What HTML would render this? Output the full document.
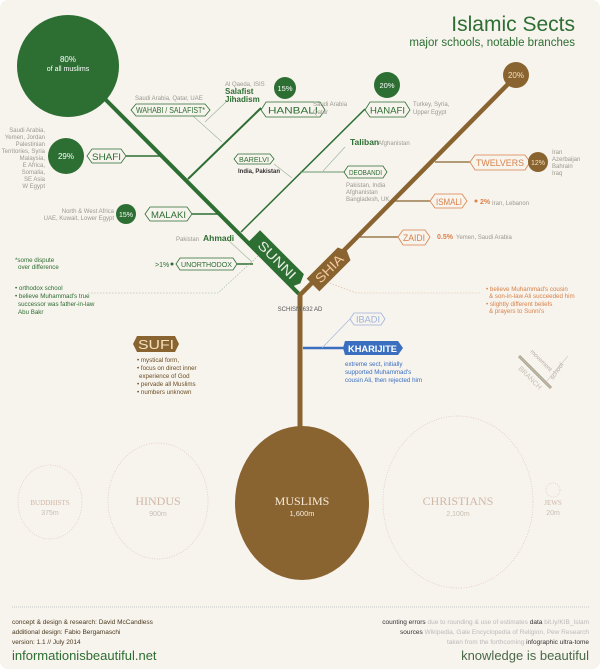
<!DOCTYPE html>
<html><head><meta charset="utf-8"><style>
html,body{margin:0;padding:0;background:#fff}
svg{display:block}
text{font-family:"Liberation Sans",sans-serif}
.s{font-family:"Liberation Serif",serif}
</style></head><body>
<svg width="600" height="669" viewBox="0 0 600 669" xmlns="http://www.w3.org/2000/svg">
<rect x="0" y="0" width="600" height="669" rx="8" fill="#f7f3ed"/>
<text x="575" y="31" text-anchor="end" font-size="21" fill="#2d6e33">Islamic Sects</text>
<text x="575" y="46" text-anchor="end" font-size="11.5" fill="#2d6e33">major schools, notable branches</text>

<circle cx="68" cy="66" r="51" fill="#2d6e33"/>
<text x="68" y="62" text-anchor="middle" font-size="8" fill="#fff">80%</text>
<text x="68" y="71" text-anchor="middle" font-size="7" fill="#fff">of all muslims</text>

<line x1="104" y1="98" x2="301" y2="296" stroke="#2d6e33" stroke-width="4"/>
<line x1="299" y1="296" x2="512" y2="80" stroke="#8a6430" stroke-width="4.5"/>
<circle cx="516" cy="75" r="13" fill="#8a6430"/>
<text x="516" y="78" text-anchor="middle" font-size="8" fill="#f3e0c0">20%</text>
<line x1="300" y1="296" x2="300" y2="430" stroke="#8a6430" stroke-width="5"/>

<line x1="188" y1="179" x2="261" y2="108" stroke="#2d6e33" stroke-width="2"/>
<line x1="241" y1="232" x2="365" y2="109" stroke="#2d6e33" stroke-width="1.5"/>
<line x1="300" y1="172" x2="345" y2="172" stroke="#6a9a6e" stroke-width="1"/>
<line x1="126" y1="156" x2="160" y2="156" stroke="#2d6e33" stroke-width="1.5"/>
<line x1="192" y1="214" x2="218" y2="214" stroke="#2d6e33" stroke-width="1.5"/>
<line x1="237" y1="264" x2="253" y2="264" stroke="#2d6e33" stroke-width="1.5"/>
<line x1="193" y1="116" x2="222" y2="142" stroke="#9ab39c" stroke-width="0.6"/>
<line x1="205" y1="122" x2="226" y2="102" stroke="#9ab39c" stroke-width="0.6"/>
<line x1="274" y1="164" x2="292" y2="178" stroke="#9ab39c" stroke-width="0.6"/>
<line x1="323" y1="171" x2="345" y2="147" stroke="#9ab39c" stroke-width="0.6"/>
<line x1="228" y1="240" x2="252" y2="262" stroke="#9ab39c" stroke-width="0.6"/>
<polyline points="88,293 218,293 270,245" fill="none" stroke="#9ab39c" stroke-width="0.6" stroke-dasharray="1.5,1.5"/>
<polyline points="327,282 356,293 480,293" fill="none" stroke="#e0b59a" stroke-width="0.6" stroke-dasharray="1.5,1.5"/>

<g fill="#2d6e33">
<polygon points="136,104 205,104 210,110 205,116 136,116 131,110" fill="#f7f3ed" stroke="#2d6e33" stroke-width="0.8"/>
<text x="136" y="113" font-size="8" textLength="69" lengthAdjust="spacingAndGlyphs">WAHABI / SALAFIST*</text>
<polygon points="266,102 320,102 325,110 320,117 266,117 261,110" fill="#f7f3ed" stroke="#2d6e33" stroke-width="0.8"/>
<text x="268" y="113.5" font-size="9.5" textLength="50" lengthAdjust="spacingAndGlyphs">HANBALI</text>
<polygon points="370,102 405,102 410,110 405,117 370,117 365,110" fill="#f7f3ed" stroke="#2d6e33" stroke-width="0.8"/>
<text x="370" y="113.5" font-size="9.5" textLength="35" lengthAdjust="spacingAndGlyphs">HANAFI</text>
<polygon points="92,149 121,149 126,156 121,163 92,163 87,156" fill="#f7f3ed" stroke="#2d6e33" stroke-width="0.8"/>
<text x="92" y="160" font-size="9.5" textLength="29" lengthAdjust="spacingAndGlyphs">SHAFI</text>
<polygon points="150,207 187,207 192,214 187,221 150,221 145,214" fill="#f7f3ed" stroke="#2d6e33" stroke-width="0.8"/>
<text x="151" y="218" font-size="9.5" textLength="35" lengthAdjust="spacingAndGlyphs">MALAKI</text>
<polygon points="238,154 270,154 274,159 270,164 238,164 234,159" fill="#f7f3ed" stroke="#2d6e33" stroke-width="0.8"/>
<text x="239" y="162" font-size="7.5" textLength="30" lengthAdjust="spacingAndGlyphs">BARELVI</text>
<polygon points="348,166 383,166 387,172 383,178 348,178 344,172" fill="#f7f3ed" stroke="#2d6e33" stroke-width="0.8"/>
<text x="349" y="175" font-size="7.5" textLength="33" lengthAdjust="spacingAndGlyphs">DEOBANDI</text>
<polygon points="180,258 233,258 237,264 233,270 180,270 176,264" fill="#f7f3ed" stroke="#2d6e33" stroke-width="0.8"/>
<text x="181" y="267" font-size="7.5" textLength="51" lengthAdjust="spacingAndGlyphs">UNORTHODOX</text>
</g>
<circle cx="285" cy="88" r="11" fill="#2d6e33"/><text x="285" y="91" text-anchor="middle" font-size="7.5" fill="#fff">15%</text>
<circle cx="387" cy="85" r="13" fill="#2d6e33"/><text x="387" y="88" text-anchor="middle" font-size="7.5" fill="#fff">20%</text>
<circle cx="66" cy="156" r="18" fill="#2d6e33"/><text x="66" y="159" text-anchor="middle" font-size="8" fill="#fff">29%</text>
<circle cx="126" cy="214" r="10" fill="#2d6e33"/><text x="126" y="217" text-anchor="middle" font-size="7" fill="#fff">15%</text>
<circle cx="172" cy="264" r="1.5" fill="#2d6e33"/>

<g font-size="6" fill="#9a9a90">
<text x="135" y="100">Saudi Arabia, Qatar, UAE</text>
<text x="225" y="86">Al Qaeda, ISIS</text>
<text x="313" y="106">Saudi Arabia</text><text x="313" y="114">Qatar</text>
<text x="413" y="106">Turkey, Syria,</text><text x="413" y="114">Upper Egypt</text>
<text x="378" y="145">Afghanistan</text>
<text x="346" y="187">Pakistan, India</text><text x="346" y="194">Afghanistan</text><text x="346" y="201">Bangladesh, UK</text>
<g text-anchor="end">
<text x="45" y="132">Saudi Arabia,</text><text x="45" y="139">Yemen, Jordan</text><text x="45" y="146">Palestinian</text><text x="45" y="153">Territories, Syria</text><text x="45" y="160">Malaysia,</text><text x="45" y="167">E Africa,</text><text x="45" y="174">Somalia,</text><text x="45" y="181">SE Asia</text><text x="45" y="188">W Egypt</text>
<text x="114" y="213">North &amp; West Africa</text><text x="114" y="220">UAE, Kuwait, Lower Egypt</text>
<text x="199" y="241">Pakistan</text>
</g>
<text x="552" y="154">Iran</text><text x="552" y="161">Azerbaijan</text><text x="552" y="168">Bahrain</text><text x="552" y="175">Iraq</text>
<text x="492" y="205">Iran, Lebanon</text>
<text x="456" y="239">Yemen, Saudi Arabia</text>
</g>
<g class="s" fill="#2d6e33" font-weight="bold">
<text x="225" y="94" font-size="8">Salafist</text><text x="225" y="102" font-size="8">Jihadism</text>
<text x="350" y="145" font-size="8.5">Taliban</text>
<text x="203" y="241" font-size="8.5">Ahmadi</text>
</g>
<text x="238" y="173" font-size="6" fill="#333" font-weight="bold">India, Pakistan</text>
<text x="155" y="267" font-size="7" fill="#2d6e33">&gt;1%</text>
<g font-size="6.2" fill="#2d6e33">
<text x="15" y="262">*some dispute</text><text x="18" y="269">over difference</text>
<text x="15" y="290">• orthodox school</text>
<text x="15" y="298">• believe Muhammad's true</text>
<text x="18" y="306">successor was father-in-law</text>
<text x="18" y="314">Abu Bakr</text>
</g>

<line x1="435" y1="162" x2="470" y2="162" stroke="#8a6430" stroke-width="1.2"/>
<line x1="395" y1="201" x2="430" y2="201" stroke="#8a6430" stroke-width="1.2"/>
<line x1="360" y1="237" x2="398" y2="237" stroke="#8a6430" stroke-width="1.2"/>
<g fill="#d9824a">
<polygon points="475,155 525,155 530,162 525,170 475,170 470,162" fill="#f7f3ed" stroke="#d9824a" stroke-width="0.8"/>
<text x="476" y="166" font-size="9.5" textLength="48" lengthAdjust="spacingAndGlyphs">TWELVERS</text>
<polygon points="435,194 462,194 467,201 462,208 435,208 430,201" fill="#f7f3ed" stroke="#d9824a" stroke-width="0.8"/>
<text x="436" y="205" font-size="9.5" textLength="26" lengthAdjust="spacingAndGlyphs">ISMALI</text>
<polygon points="403,230 425,230 430,237 425,245 403,245 398,237" fill="#f7f3ed" stroke="#d9824a" stroke-width="0.8"/>
<text x="403" y="241" font-size="9.5" textLength="22" lengthAdjust="spacingAndGlyphs">ZAIDI</text>
</g>
<circle cx="538" cy="162" r="10" fill="#8a6430"/><text x="538" y="165" text-anchor="middle" font-size="7" fill="#f3e0c0">12%</text>
<circle cx="476" cy="201" r="1.5" fill="#d9824a"/>
<text x="480" y="204" font-size="7" fill="#d9824a" font-weight="bold">2%</text>
<text x="437" y="239" font-size="7" fill="#d9824a" font-weight="bold">0.5%</text>
<g font-size="6.2" fill="#d9824a">
<text x="486" y="291">• believe Muhammad's cousin</text>
<text x="489" y="298">&amp; son-in-law Ali succeeded him</text>
<text x="486" y="306">• slightly different beliefs</text>
<text x="489" y="313">&amp; prayers to Sunni's</text>
</g>

<g transform="translate(277,260) rotate(45)">
<polygon points="-33,-9 29,-9 33,0 29,9 -33,9" fill="#2d6e33"/>
<text x="-24" y="4.5" font-size="13" fill="#e8efe4" textLength="48" lengthAdjust="spacingAndGlyphs">SUNNI</text>
</g>
<g transform="translate(330,268) rotate(-45)">
<polygon points="-24,-9 20,-9 24,0 20,9 -24,9" fill="#8a6430"/>
<text x="-18" y="4.5" font-size="13" fill="#f3c8a0" textLength="34" lengthAdjust="spacingAndGlyphs">SHIA</text>
</g>
<text x="300" y="311" text-anchor="middle" font-size="6" fill="#555">SCHISM 632 AD</text>

<line x1="303" y1="348" x2="344" y2="348" stroke="#3a6fc0" stroke-width="2.5"/>
<line x1="322" y1="348" x2="350" y2="319" stroke="#9db3dc" stroke-width="0.6"/>
<polygon points="354,313 381,313 385,319 381,325 354,325 350,319" fill="#f7f3ed" stroke="#9db3dc" stroke-width="0.8"/>
<text x="356" y="322.5" font-size="9" fill="#9db3dc" textLength="24" lengthAdjust="spacingAndGlyphs">IBADI</text>
<polygon points="345,341 398,341 403,348 398,355 345,355 343,348" fill="#3a6fc0"/>
<text x="348" y="352" font-size="9" fill="#fff" font-weight="bold" textLength="49" lengthAdjust="spacingAndGlyphs">KHARIJITE</text>
<g font-size="6.2" fill="#3a6fc0">
<text x="345" y="366">extreme sect,  initially</text>
<text x="345" y="374">supported Muhammad's</text>
<text x="345" y="382">cousin Ali, then rejected him</text>
</g>

<polygon points="137,336 175,336 179,344 175,352 137,352 133,344" fill="#8a6430"/>
<text x="138" y="349" font-size="13" fill="#f3e0c0" textLength="36" lengthAdjust="spacingAndGlyphs">SUFI</text>
<g font-size="6.2" fill="#6b4f25">
<text x="137" y="362">• mystical form,</text>
<text x="137" y="370">• focus on direct inner</text>
<text x="139" y="378">experience of God</text>
<text x="137" y="386">• pervade all Muslims</text>
<text x="137" y="394">• numbers unknown</text>
</g>

<line x1="519" y1="356" x2="551" y2="388" stroke="#9aa89a" stroke-width="3"/>
<line x1="519" y1="356" x2="551" y2="388" stroke="#e0b59a" stroke-width="1"/>
<line x1="546" y1="382" x2="568" y2="356" stroke="#ccc" stroke-width="0.6"/>
<text transform="translate(530,352) rotate(45)" font-size="6" fill="#b5b0a5">movement</text>
<text transform="translate(518,369) rotate(45)" font-size="7" fill="#c5c0b5">BRANCH</text>
<text transform="translate(553,380) rotate(-55)" font-size="6.5" fill="#b5b0a5">school</text>

<ellipse cx="50" cy="502" rx="32" ry="37" fill="none" stroke="#dcc8b8" stroke-width="0.7" stroke-dasharray="1,1.5"/>
<text x="50" y="505" text-anchor="middle" class="s" font-size="7" fill="#d0b8a8">BUDDHISTS</text>
<text x="50" y="515" text-anchor="middle" font-size="7" fill="#c8c0b5">375m</text>
<ellipse cx="158" cy="501" rx="50" ry="58" fill="none" stroke="#dcc8b8" stroke-width="0.7" stroke-dasharray="1,1.5"/>
<text x="158" y="505" text-anchor="middle" class="s" font-size="12" fill="#d0b8a8">HINDUS</text>
<text x="158" y="516" text-anchor="middle" font-size="7" fill="#c8c0b5">900m</text>
<ellipse cx="302" cy="503" rx="67" ry="77" fill="#8a6430"/>
<text x="302" y="505" text-anchor="middle" class="s" font-size="12" fill="#f5ead8">MUSLIMS</text>
<text x="302" y="516" text-anchor="middle" font-size="7.5" fill="#f5ead8">1,600m</text>
<ellipse cx="458" cy="502" rx="75" ry="86" fill="none" stroke="#dcc8b8" stroke-width="0.7" stroke-dasharray="1,1.5"/>
<text x="458" y="505" text-anchor="middle" class="s" font-size="12" fill="#d0b8a8">CHRISTIANS</text>
<text x="458" y="516" text-anchor="middle" font-size="7" fill="#c8c0b5">2,100m</text>
<circle cx="553" cy="490" r="7" fill="none" stroke="#dcc8b8" stroke-width="0.7" stroke-dasharray="1,1.5"/>
<text x="553" y="505" text-anchor="middle" class="s" font-size="7" fill="#d0b8a8">JEWS</text>
<text x="553" y="515" text-anchor="middle" font-size="7" fill="#c8c0b5">20m</text>

<line x1="12" y1="607" x2="590" y2="607" stroke="#bbb" stroke-width="0.7" stroke-dasharray="1,1"/>
<g font-size="6.5" fill="#4a3a20">
<text x="12" y="624">concept &amp; design &amp; research: David McCandless</text>
<text x="12" y="634">additional design: Fabio Bergamaschi</text>
<text x="12" y="644">version: 1.1 // July 2014</text>
</g>
<text x="12" y="660" font-size="13" fill="#2d6e33">informationisbeautiful.net</text>
<g font-size="6.5" text-anchor="end">
<text x="589" y="624" fill="#bbb"><tspan fill="#333">counting errors</tspan> due to rounding &amp; use of estimates <tspan fill="#333">data</tspan> bit.ly/KIB_Islam</text>
<text x="589" y="634" fill="#bbb"><tspan fill="#333">sources</tspan> Wikipedia, Gale Encyclopedia of Religion, Pew Research</text>
<text x="589" y="644" fill="#bbb">taken from the forthcoming <tspan fill="#333">infographic ultra-tome</tspan></text>
</g>
<text x="589" y="660" text-anchor="end" font-size="13" fill="#4a6a4a">knowledge is beautiful</text>
</svg>
</body></html>
